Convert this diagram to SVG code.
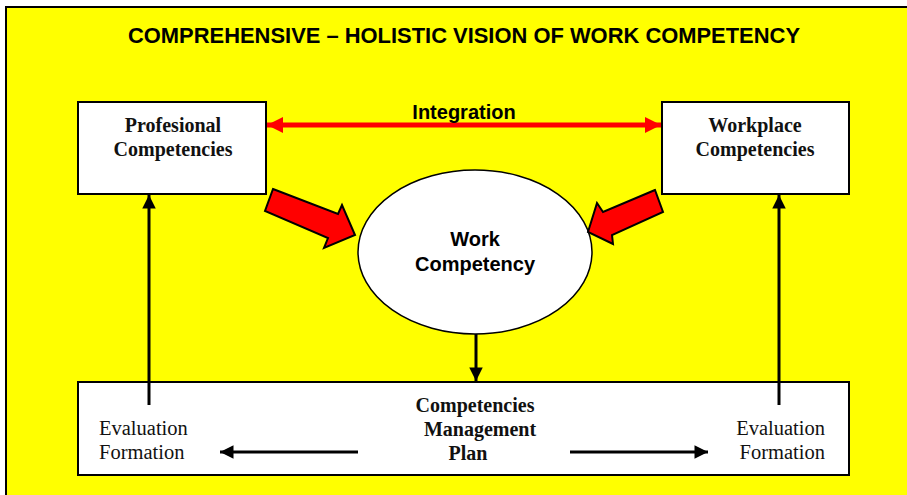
<svg xmlns="http://www.w3.org/2000/svg" width="907" height="495" viewBox="0 0 907 495">
<defs>
<style>
.box{fill:#fff;stroke:#000;stroke-width:2}
.tb{font-family:"Liberation Serif",serif;font-weight:bold;font-size:20px;text-anchor:middle;fill:#111}
.tr{font-family:"Liberation Serif",serif;font-size:20.5px;fill:#111}
.ab{font-family:"Liberation Sans",Arial,sans-serif;font-weight:bold;font-size:20px;text-anchor:middle;fill:#000}
.blk{stroke:#000;stroke-width:3;fill:none}
.blockarrow{fill:#f00;stroke:#000;stroke-width:2;stroke-linejoin:miter}
</style>
<marker id="ah" viewBox="0 0 10 10" refX="10" refY="5" markerWidth="5.5" markerHeight="4.5" markerUnits="strokeWidth" orient="auto">
<path d="M0,0 L10,5 L0,10 z" fill="#000"/>
</marker>
<marker id="rh" viewBox="0 0 10 10" refX="10" refY="5" markerWidth="4" markerHeight="3.2" markerUnits="strokeWidth" orient="auto-start-reverse">
<path d="M0,0 L10,5 L0,10 z" fill="#f00"/>
</marker>
</defs>
<rect x="0" y="0" width="907" height="495" fill="#fff"/>
<rect id="frame" x="6" y="7" width="910" height="500" fill="#ffff00" stroke="#000" stroke-width="2"/>
<text x="464" y="43" font-family="'Liberation Sans',Arial,sans-serif" font-weight="bold" font-size="22" text-anchor="middle" textLength="672" lengthAdjust="spacingAndGlyphs">COMPREHENSIVE – HOLISTIC VISION OF WORK COMPETENCY</text>

<g id="profesional">
<rect class="box" x="78" y="102" width="188" height="92"/>
<text class="tb" x="173" y="132">Profesional</text>
<text class="tb" x="173" y="156">Competencies</text>
</g>
<g id="workplace">
<rect class="box" x="662" y="102" width="187" height="92"/>
<text class="tb" x="755" y="132">Workplace</text>
<text class="tb" x="755" y="156">Competencies</text>
</g>
<g id="work">
<ellipse cx="475" cy="252" rx="117" ry="82" fill="#fff" stroke="#000" stroke-width="1.5"/>
<text class="ab" x="475" y="246">Work</text>
<text class="ab" x="475" y="271">Competency</text>
</g>
<g id="plan">
<rect class="box" x="78" y="382" width="771" height="93"/>
<text class="tb" x="475" y="412">Competencies</text>
<text class="tb" x="480" y="436">Management</text>
<text class="tb" x="468" y="460">Plan</text>
<text class="tr" x="99" y="435">Evaluation</text>
<text class="tr" x="99" y="459">Formation</text>
<text class="tr" x="825" y="435" text-anchor="end">Evaluation</text>
<text class="tr" x="825" y="459" text-anchor="end">Formation</text>
</g>

<g id="connectors">
<line x1="267" y1="125" x2="661" y2="125" stroke="#f00" stroke-width="5" marker-start="url(#rh)" marker-end="url(#rh)"/>
<text class="ab" x="464" y="119">Integration</text>
<polygon class="blockarrow" points="273,189 338,214 342,205 355,235 324,248 328,238 265,211"/>
<polygon class="blockarrow" points="655,190 603,212 597,203 588,232 613,244 612,235 663,212"/>
<line class="blk" x1="476" y1="334" x2="476" y2="381" stroke-width="2.5" marker-end="url(#ah)"/>
<line class="blk" x1="149" y1="405" x2="149" y2="195" marker-end="url(#ah)"/>
<line class="blk" x1="779" y1="405" x2="779" y2="195" marker-end="url(#ah)"/>
<line class="blk" x1="358" y1="452" x2="220" y2="452" marker-end="url(#ah)"/>
<line class="blk" x1="570" y1="452" x2="708" y2="452" marker-end="url(#ah)"/>
</g>
</svg>
